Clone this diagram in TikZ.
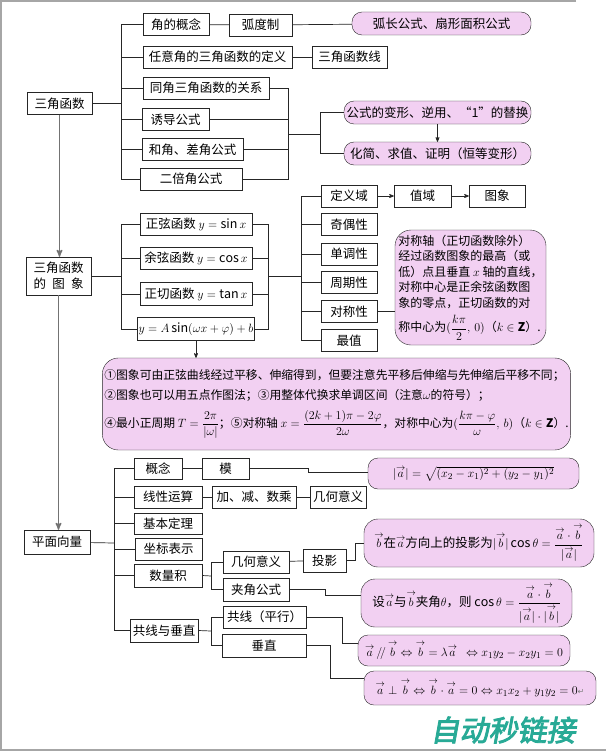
\documentclass[tikz,border=0pt]{standalone}
\usepackage{amsmath}
\usepackage{fontspec}
\setmainfont{Noto Sans CJK SC}
\newfontfamily\wmfont[FakeBold=3,FakeSlant=0.18]{Noto Sans CJK SC}
\newfontfamily\symfont{DejaVu Sans}
\usetikzlibrary{arrows}
\definecolor{pinkfill}{RGB}{242,208,242}
\definecolor{wmteal}{RGB}{40,170,150}
\newcommand{\vecA}{\overset{\rightarrow}{a}}
\newcommand{\vecB}{\overset{\rightarrow}{b}}

\begin{document}
\begin{tikzpicture}[x=1pt,y=-1pt,>=stealth',
  font=\fontsize{12.5}{15}\selectfont,
  box/.style={draw=black!85,fill=white,inner sep=1pt,minimum width=#1pt,minimum height=22pt},
  box/.default=60,
  pinkbox/.style={draw=black!85,fill=pinkfill,rounded corners=10pt,inner sep=2pt,minimum width=#1pt},
  pinkbox/.default=100,
  wire/.style={draw=black!85,line width=0.7pt},
  trunk/.style={draw=black!55,line width=1.4pt},
  frame/.style={draw=black!35,line width=1.5pt}]

\useasboundingbox (0,0) rectangle (606,752);
\fill[white] (0,0) rectangle (606,752);
\draw[frame] (576,1) -- (1,1) -- (1,750) -- (606,750);

% 三角函数
\node[box=65] (t_0) at (59.5,103.5) {三角函数};
\node[box=66] (t_1) at (176,24.5) {角的概念};
\node[box=149] (t_2) at (217.5,57) {任意角的三角函数的定义};
\node[box=126] (t_3) at (206,88) {同角三角函数的关系};
\node[box=67] (t_4) at (175.5,119.5) {诱导公式};
\node[box=101] (t_5) at (192.5,149.5) {和角、差角公式};
\node[box=102] (t_6) at (191,179) {二倍角公式};
\node[box=63] (t_7) at (260.5,25) {弧度制};
\node[box=75] (t_8) at (349.5,57) {三角函数线};
\node[pinkbox=179,minimum height=23pt] (t_9) at (441.5,23.5) {弧长公式、扇形面积公式};
\node[pinkbox=187,minimum height=23pt] (t_10) at (437.5,112.5) {公式的变形、逆用、“1”的替换};
\node[pinkbox=187,minimum height=23pt] (t_11) at (437.5,153.5) {化简、求值、证明（恒等变形）};

\coordinate (j_1) at (121,103.5);
\coordinate (k_1) at (288,134);
\coordinate (k_2) at (320,134);

\draw[wire] (t_0) -- (j_1);
\foreach \i in {1,...,6} \draw[wire] (j_1) |- (t_\i.west);
\draw[wire] (t_1) -- (t_7);
\draw[wire] (t_7) -- (t_9);
\draw[wire] (t_2) -- (t_8);
\foreach \i in {3,...,6} \draw[wire] (t_\i.east) -| (k_1);
\draw[wire] (k_1) -- (k_2);
\draw[wire] (k_2) |- (t_10.west);
\draw[wire] (k_2) |- (t_11.west);
\draw[wire,->] (t_10) -- (t_11);

% 三角函数的图象
\node[box=65,minimum height=38pt,align=center,font=\fontsize{12.5}{16}\selectfont] (g_0) at (58.5,276)
  {三角函数\\\makebox[50pt]{的\hfill 图\hfill 象}};
\node[box=112] (g_1) at (196,224) {正弦函数 $y=\sin x$};
\node[box=112] (g_2) at (196,258.5) {余弦函数 $y=\cos x$};
\node[box=112,minimum height=23pt] (g_3) at (196,294) {正切函数 $y=\tan x$};
\node[box=112,minimum height=23pt] (g_4) at (196,329) {$y=A\sin(\omega x+\varphi)+b$};
\foreach \i/\y/\t in {5/196/定义域,6/224.5/奇偶性,7/254/单调性,8/282.5/周期性,9/311.5/对称性,10/340.5/最值}
  \node[box=56] (g_\i) at (349,\y) {\t};
\node[box=57] (g_11) at (422.5,196) {值域};
\node[box=56] (g_12) at (497,196) {图象};
\node[pinkbox=151,minimum height=115pt,rounded corners=16pt,align=left,
  font=\fontsize{12}{15.5}\selectfont] (g_13) at (470.5,287.5)
  {对称轴（正切函数除外）\\经过函数图象的最高（或\\低）点且垂直 $x$ 轴的直线，\\
   对称中心是正余弦函数图\\象的零点，正切函数的对\\[6pt]
   称中心为$(\dfrac{k\pi}{2},\,0)$（$k\in\mathbf{Z}$）.};
\node[pinkbox=467,minimum height=92pt,rounded corners=16pt,align=left,
  font=\fontsize{11.8}{20}\selectfont] (g_14) at (336.5,404)
  {①图象可由正弦曲线经过平移、伸缩得到，但要注意先平移后伸缩与先伸缩后平移不同；\\
   ②图象也可以用五点作图法；③用整体代换求单调区间（注意$\omega$的符号）；\\[8pt]
   ④最小正周期 $T=\dfrac{2\pi}{|\omega|}$；⑤对称轴 $x=\dfrac{(2k+1)\pi-2\varphi}{2\omega}$，对称中心为$(\dfrac{k\pi-\varphi}{\omega},\,b)$（$k\in\mathbf{Z}$）.};

\coordinate (j_2) at (121,276);
\coordinate (k_3) at (268,276);
\coordinate (k_4) at (301,276);

\draw[wire] (g_0) -- (j_2);
\foreach \i in {1,...,4} \draw[wire] (j_2) |- (g_\i.west);
\foreach \i in {1,...,4} \draw[wire] (g_\i.east) -| (k_3);
\draw[wire] (k_3) -- (k_4);
\foreach \i in {5,...,10} \draw[wire] (k_4) |- (g_\i.west);
\draw[wire,->] (g_5) -- (g_11);
\draw[wire,->] (g_11) -- (g_12);
\draw[wire] (g_9.east) -- (g_9.east -| g_13.west);
\draw[wire,->] (g_4.south) -- (g_4.south |- g_14.north);
\draw[trunk,->] (t_0.south) -- (t_0.south |- g_0.north);

% 平面向量
\node[box=66,minimum height=24pt] (v_0) at (57,542) {平面向量};
\node[box=48,minimum height=21pt] (v_1) at (158,468.5) {概念};
\node[box=68] (v_2) at (168,497) {线性运算};
\node[box=68,minimum height=21pt] (v_3) at (168,523.5) {基本定理};
\node[box=67] (v_4) at (168.5,549) {坐标表示};
\node[box=68,minimum height=23pt] (v_5) at (168,575.5) {数量积};
\node[box=68,minimum height=23pt] (v_6) at (164,630.5) {共线与垂直};
\node[box=47,minimum height=21pt] (v_7) at (225.5,468.5) {模};
\node[box=84] (v_8) at (254,497) {加、减、数乘};
\node[box=56] (v_9) at (338,497) {几何意义};
\node[box=66] (v_10) at (256,562) {几何意义};
\node[box=66,minimum height=23pt] (v_11) at (256,589.5) {夹角公式};
\node[box=43,minimum height=23pt] (v_12) at (324.5,560.5) {投影};
\node[box=83] (v_13) at (264.5,617) {共线（平行）};
\node[box=84,minimum height=23pt] (v_14) at (264,645.5) {垂直};
\node[pinkbox=211,minimum height=31pt] (v_15) at (473.5,473.5)
  {$|\vecA|=\sqrt{(x_2-x_1)^2+(y_2-y_1)^2}$};
\node[pinkbox=230,minimum height=48pt,rounded corners=14pt] (v_16) at (479,543)
  {$\vecB$在$\vecA$方向上的投影为$|\vecB|\cos\theta=\dfrac{\vecA\cdot\vecB}{|\vecA|}$};
\node[pinkbox=211,minimum height=48pt,rounded corners=14pt] (v_17) at (466.5,603)
  {设$\vecA$与$\vecB$夹角$\theta$，则 $\cos\theta=\dfrac{\vecA\cdot\vecB}{|\vecA|\cdot|\vecB|}$};
\node[pinkbox=212,minimum height=31pt] (v_18) at (464,650.5)
  {$\vecA\,/\!/\,\vecB\Leftrightarrow\vecB=\lambda\vecA\ \ \Leftrightarrow x_1y_2-x_2y_1=0$};
\node[pinkbox=232,minimum height=34pt] (v_19) at (480,688)
  {$\vecA\perp\vecB\Leftrightarrow\vecB\cdot\vecA=0\Leftrightarrow x_1x_2+y_1y_2=0${\symfont\fontsize{8}{8}\selectfont\color{black!50}↵}};

\coordinate (j_3) at (114,543);
\coordinate (k_5) at (211,576);
\coordinate (k_6) at (211,631);

\draw[trunk,->] (g_0.south) -- (g_0.south |- v_0.north);
\draw[wire] (v_0) -- (j_3);
\foreach \i in {1,...,6} \draw[wire] (j_3) |- (v_\i.west);
\draw[wire] (v_1) -- (v_7);
\draw[wire] (v_2) -- (v_8);
\draw[wire] (v_8) -- (v_9);
\draw[wire] (v_5.east) -- (k_5);
\draw[wire] (k_5) |- (v_10.west);
\draw[wire] (k_5) |- (v_11.west);
\draw[wire] (v_10) -- (v_12);
\draw[wire] (v_6.east) -- (k_6);
\draw[wire] (k_6) |- (v_13.west);
\draw[wire] (k_6) |- (v_14.west);
\draw[wire] (v_7.east) -- ++(59,0) |- ([yshift=1.5pt]v_15.west);
\draw[wire] (v_12.east) -- ++(9,0) |- (v_16.west);
\draw[wire] (v_11.east) -- ++(36,0) |- ([yshift=8pt]v_17.west);
\draw[wire] (v_13.east) -- ++(36,0) |- ([yshift=7.5pt]v_18.west);
\draw[wire] (v_14.east) -- ++(24,0) |- ([yshift=10pt]v_19.west);

\node[text=wmteal,font=\wmfont\fontsize{29}{30}\selectfont] (w_1) at (503,730) {自动秒链接};

\end{tikzpicture}
\end{document}
